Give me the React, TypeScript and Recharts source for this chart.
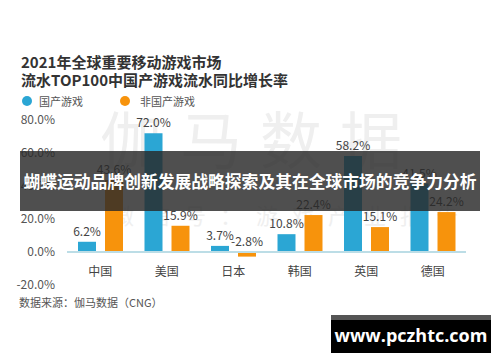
import React from 'react';
import { BarChart, Bar, XAxis, YAxis, ReferenceLine, LabelList } from 'recharts';

const categories = ['中国', '美国', '日本', '韩国', '英国', '德国'];
const domestic = [6.2, 72.0, 3.7, 10.8, 58.2, 41.5];
const foreign = [43.6, 15.9, -2.8, 22.4, 15.1, 24.2];
const yTicks = [-20, 0, 20, 40, 60, 80];
const seriesNames = ['国产游戏', '非国产游戏'];

const data = categories.map((c, i) => ({ name: c, domestic: domestic[i], foreign: foreign[i] }));

const BLUE = '#2ba6d4';
const ORANGE = '#f7930c';
const FONT = '"Noto Sans CJK SC", "Open Sans", sans-serif';

const renderLabel = (props: any) => {
  const { x, y, width, height, value } = props;
  const top = Math.min(y, y + height);
  return (
    <text x={x + width / 2} y={top - 6} textAnchor="middle" fontSize={12} fill="#444" fontFamily={FONT}>
      {value.toFixed(1)}%
    </text>
  );
};

const XTick = (props: any) => {
  const { x, y, payload } = props;
  return (
    <text x={x} y={y - 15} textAnchor="middle" dominantBaseline="central" fontSize={12} fill="#444" fontFamily={FONT}>
      {payload.value}
    </text>
  );
};

export default function App() {
  return (
    <div style={{ position: 'absolute', left: 0, top: 0, width: 500, height: 362, background: '#fff', overflow: 'hidden', fontFamily: FONT }}>
      {/* watermark */}
      <div style={{ position: 'absolute', left: 100, top: 92, fontSize: 62, color: '#efefef', letterSpacing: 18, whiteSpace: 'nowrap' }}>伽马数据</div>
      <div style={{ position: 'absolute', left: 112, top: 198, fontSize: 22, color: '#efefef', letterSpacing: 14, whiteSpace: 'nowrap' }}>微信号：游戏产业报告</div>

      <div style={{ position: 'absolute', left: 21, top: 53, fontSize: 15, color: '#333', fontWeight: 600, lineHeight: '18px', whiteSpace: 'nowrap' }}>
        2021年全球重要移动游戏市场<br />流水TOP100中国产游戏流水同比增长率
      </div>

      <div style={{ position: 'absolute', left: 22, top: 93, fontSize: 11, color: '#555', display: 'flex', alignItems: 'center', whiteSpace: 'nowrap' }}>
        <span style={{ width: 10, height: 10, borderRadius: 5, background: BLUE, display: 'inline-block', marginRight: 7 }} />
        <span style={{ marginRight: 37 }}>{seriesNames[0]}</span>
        <span style={{ width: 10, height: 10, borderRadius: 5, background: ORANGE, display: 'inline-block', marginRight: 10 }} />
        <span>{seriesNames[1]}</span>
      </div>

      <div style={{ position: 'absolute', left: 0, top: 0 }}>
        <BarChart width={500} height={362} data={data} margin={{ top: 120, right: 34, bottom: 0, left: 10 }} barGap={9} barCategoryGap={11}>
          <YAxis
            width={57}
            domain={[-20, 80]}
            ticks={yTicks}
            axisLine={false}
            tickLine={false}
            tickSize={0}
            tickMargin={12}
            tick={{ fontSize: 12, fill: '#555', fontFamily: FONT }}
            tickFormatter={(v: number) => `${v.toFixed(1)}%`}
          />
          <XAxis dataKey="name" axisLine={false} tickLine={false} tickSize={0} tickMargin={0} height={77} tick={<XTick />} />
          <ReferenceLine y={0} stroke="#bcdde6" strokeWidth={2} />
          <Bar dataKey="domestic" fill={BLUE} isAnimationActive={false}>
            <LabelList dataKey="domestic" content={renderLabel} />
          </Bar>
          <Bar dataKey="foreign" fill={ORANGE} isAnimationActive={false}>
            <LabelList dataKey="foreign" content={renderLabel} />
          </Bar>
        </BarChart>
      </div>

      <div style={{ position: 'absolute', left: 19, top: 294, fontSize: 11, color: '#555', whiteSpace: 'nowrap' }}>数据来源：伽马数据（CNG）</div>

      <div style={{ position: 'absolute', left: 20, top: 151, width: 460, height: 60, background: 'rgba(40,40,40,0.82)', display: 'flex', alignItems: 'center', justifyContent: 'center' }}>
        <span style={{ color: '#fff', fontSize: 16.8, fontWeight: 700, whiteSpace: 'nowrap' }}>蝴蝶运动品牌创新发展战略探索及其在全球市场的竞争力分析</span>
      </div>

      <div style={{ position: 'absolute', left: 331, top: 315, width: 160, height: 38, background: '#000' }}>
        <div style={{ height: 5, background: '#555' }} />
        <div style={{ color: '#fff', fontSize: 18, fontWeight: 700, textAlign: 'center', lineHeight: '30px', fontFamily: '"Open Sans", sans-serif' }}>www.pczhtc.com</div>
      </div>
    </div>
  );
}
